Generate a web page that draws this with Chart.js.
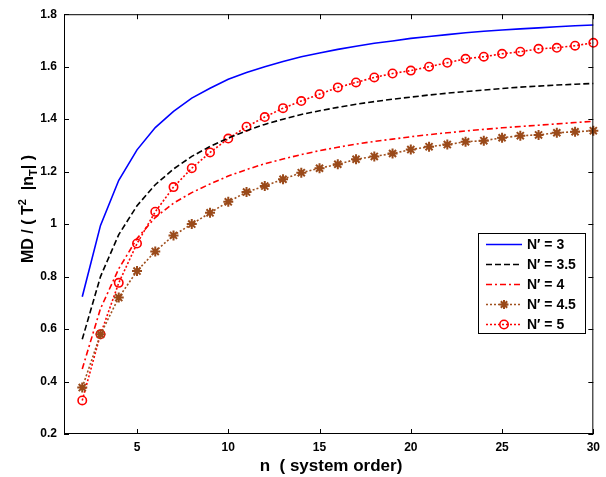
<!DOCTYPE html>
<html><head><meta charset="utf-8">
<script src="https://cdn.jsdelivr.net/npm/chart.js@4/dist/chart.umd.min.js"></script>
<style>html,body{margin:0;padding:0;background:#fff}#wrap{width:606px;height:477px;position:relative}</style>
</head><body><div id="wrap"><canvas id="c" width="606" height="477"></canvas></div>
<script>
const nValues = [2,3,4,5,6,7,8,9,10,11,12,13,14,15,16,17,18,19,20,21,22,23,24,25,26,27,28,29,30];
const seriesN3  = [0.723,0.995,1.167,1.283,1.368,1.430,1.480,1.518,1.552,1.578,1.600,1.620,1.638,1.652,1.666,1.678,1.689,1.698,1.708,1.715,1.722,1.729,1.735,1.740,1.744,1.748,1.752,1.756,1.759];
const seriesN35 = [0.561,0.800,0.960,1.070,1.150,1.210,1.258,1.296,1.328,1.356,1.380,1.400,1.418,1.432,1.445,1.457,1.467,1.476,1.484,1.492,1.499,1.505,1.511,1.517,1.522,1.526,1.530,1.533,1.536];
const seriesN4  = [0.448,0.678,0.830,0.945,1.025,1.080,1.120,1.153,1.183,1.208,1.230,1.248,1.265,1.280,1.293,1.305,1.315,1.324,1.333,1.341,1.348,1.355,1.361,1.367,1.372,1.377,1.382,1.387,1.392];
const seriesN45 = [0.377,0.580,0.720,0.821,0.896,0.957,1.000,1.043,1.085,1.122,1.145,1.171,1.196,1.213,1.228,1.247,1.258,1.269,1.284,1.295,1.303,1.314,1.318,1.329,1.337,1.340,1.348,1.352,1.356];
const seriesN5  = [0.328,0.580,0.776,0.926,1.047,1.141,1.213,1.273,1.326,1.371,1.408,1.442,1.469,1.495,1.521,1.540,1.559,1.574,1.585,1.600,1.615,1.630,1.638,1.649,1.657,1.668,1.672,1.680,1.691];
const legendLabels = ["N\u2032 = 3","N\u2032 = 3.5","N\u2032 = 4","N\u2032 = 4.5","N\u2032 = 5"];
const xTicks = [5,10,15,20,25,30];
const yTicks = [0.2,0.4,0.6,0.8,1,1.2,1.4,1.6,1.8];

const FONT = "'Liberation Sans', Arial, sans-serif";
const pts = arr => arr.map((v,i)=>({x:nValues[i], y:v}));

const datasets = [
  {label:legendLabels[0], data:pts(seriesN3), borderColor:'#0000ff', borderWidth:1.6, pointRadius:0, borderDash:[]},
  {label:legendLabels[1], data:pts(seriesN35), borderColor:'#000000', borderWidth:1.6, pointRadius:0, borderDash:[6,3]},
  {label:legendLabels[2], data:pts(seriesN4), borderColor:'#ff0000', borderWidth:1.6, pointRadius:0, borderDash:[6,3,2,3]},
  {label:legendLabels[3], data:pts(seriesN45), borderColor:'#a0501e', borderWidth:1.6, borderDash:[2,2],
    pointStyle:'star', pointRadius:5, pointBorderWidth:2, pointBorderColor:'#9a4a1a', pointBackgroundColor:'#9a4a1a'},
  {label:legendLabels[4], data:pts(seriesN5), borderColor:'#ff0000', borderWidth:1.6, borderDash:[2,2],
    pointStyle:'circle', pointRadius:4.2, pointBorderWidth:1.6, pointBorderColor:'#ff0000', pointBackgroundColor:'rgba(0,0,0,0)'}
];
datasets.forEach(d=>{d.fill=false; d.tension=0; d.clip=false; d.pointHoverRadius=d.pointRadius;});

const framePlugin = {
  id:'frame',
  afterDraw(chart){
    const {ctx, chartArea:a, scales} = chart;
    ctx.save();
    ctx.strokeStyle='#000'; ctx.lineWidth=1; ctx.setLineDash([]);
    ctx.strokeRect(a.left+0.5, a.top+0.5, a.right-a.left-1, a.bottom-a.top-1);
    ctx.beginPath();
    xTicks.forEach(v=>{const x=Math.round(scales.x.getPixelForValue(v))+0.5;
      ctx.moveTo(x,a.bottom); ctx.lineTo(x,a.bottom-5); ctx.moveTo(x,a.top); ctx.lineTo(x,a.top+5);});
    yTicks.forEach(v=>{const y=Math.round(scales.y.getPixelForValue(v))+0.5;
      ctx.moveTo(a.left,y); ctx.lineTo(a.left+5,y); ctx.moveTo(a.right,y); ctx.lineTo(a.right-5,y);});
    ctx.stroke();
    // x title
    ctx.fillStyle='#000'; ctx.font='bold 17px '+FONT; ctx.textAlign='center'; ctx.textBaseline='alphabetic';
    ctx.fillText('n  ( system order)', 331, 471);
    // y title with super/subscript
    ctx.translate(22, 209);
    ctx.rotate(-Math.PI/2);
    const big='bold 16px '+FONT, small='bold 11px '+FONT;
    const parts=[['MD / ( T',big,0],['2',small,-7],['  |n',big,0],['T',small,4],['| )',big,0]];
    let w=0; parts.forEach(p=>{ctx.font=p[1]; w+=ctx.measureText(p[0]).width;});
    let x=-w/2; ctx.textAlign='left';
    parts.forEach(p=>{ctx.font=p[1]; ctx.fillText(p[0], x, 11+p[2]); x+=ctx.measureText(p[0]).width;});
    ctx.restore();
    // legend
    ctx.save();
    const lx=478, ly=233, lw=107, lh=100;
    ctx.fillStyle='#fff'; ctx.fillRect(lx,ly,lw,lh);
    ctx.strokeStyle='#000'; ctx.lineWidth=1; ctx.strokeRect(lx+0.5,ly+0.5,lw,lh);
    chart.data.datasets.forEach((d,i)=>{
      const y=ly+11.5+i*20;
      ctx.strokeStyle=d.borderColor; ctx.lineWidth=d.borderWidth; ctx.setLineDash(d.borderDash||[]);
      ctx.beginPath(); ctx.moveTo(lx+8,y); ctx.lineTo(lx+44,y); ctx.stroke();
      ctx.setLineDash([]);
      if(d.pointRadius>0){
        const cx=lx+26, r=d.pointStyle==='circle'?d.pointRadius:4.5;
        ctx.lineWidth=d.pointBorderWidth; ctx.strokeStyle=d.pointBorderColor;
        ctx.beginPath();
        if(d.pointStyle==='circle'){ctx.arc(cx,y,r,0,Math.PI*2);}
        else{ctx.moveTo(cx-r,y);ctx.lineTo(cx+r,y);ctx.moveTo(cx,y-r);ctx.lineTo(cx,y+r);
          const q=r*0.707;ctx.moveTo(cx-q,y-q);ctx.lineTo(cx+q,y+q);ctx.moveTo(cx-q,y+q);ctx.lineTo(cx+q,y-q);}
        ctx.stroke();
      }
      ctx.fillStyle='#000'; ctx.font='bold 14px '+FONT; ctx.textAlign='left'; ctx.textBaseline='middle';
      ctx.fillText(d.label, lx+49, y+1);
    });
    ctx.restore();
  }
};

new Chart(document.getElementById('c'), {
  type:'line',
  data:{datasets},
  options:{
    responsive:false, animation:false, devicePixelRatio:1,
    layout:{padding:{left:0, top:9, right:9, bottom:0}},
    plugins:{legend:{display:false}, tooltip:{enabled:false}},
    scales:{
      x:{type:'linear', min:1, max:30,
         afterBuildTicks(s){s.ticks=xTicks.map(v=>({value:v}));},
         afterFit(s){s.height=43;},
         grid:{display:false, drawTicks:false}, border:{display:false},
         ticks:{color:'#000', font:{family:FONT, size:12, weight:'bold'}, padding:6, maxRotation:0}},
      y:{type:'linear', min:0.2, max:1.8,
         afterBuildTicks(s){s.ticks=yTicks.map(v=>({value:v}));},
         afterFit(s){s.width=64;},
         grid:{display:false, drawTicks:false}, border:{display:false},
         ticks:{color:'#000', font:{family:FONT, size:12, weight:'bold'}, padding:7,
           callback:v=>String(+v.toFixed(1))}}
    }
  },
  plugins:[framePlugin]
});
</script></body></html>
